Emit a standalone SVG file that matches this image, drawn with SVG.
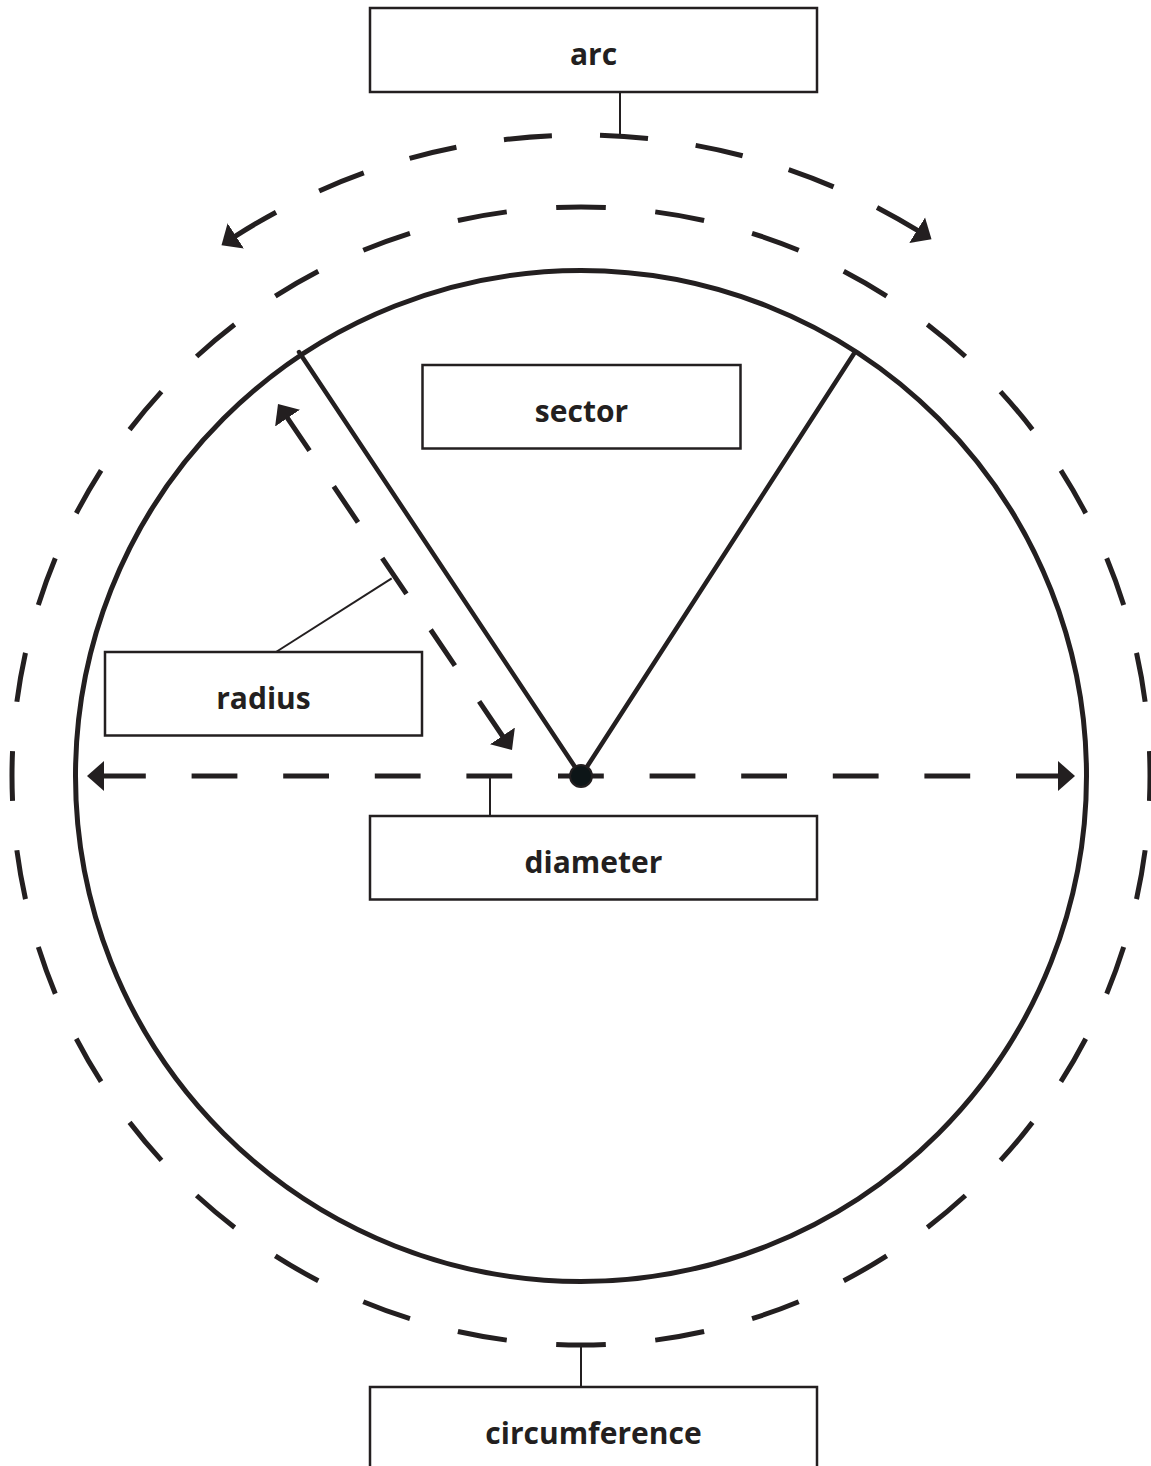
<svg xmlns="http://www.w3.org/2000/svg" width="1151" height="1466" viewBox="0 0 1151 1466">
  <style>
    .box { fill: #ffffff; stroke: #231f20; stroke-width: 2.5; }
    .label { font-family: "Open Sans", "Liberation Sans", sans-serif; font-weight: 700; font-size: 30px; fill: #231f20; text-anchor: middle; }
    .solid { fill: none; stroke: #231f20; stroke-width: 5; }
    .spoke { fill: none; stroke: #231f20; stroke-width: 4.5; stroke-linecap: round; }
    .dash { fill: none; stroke: #231f20; stroke-width: 5; stroke-linecap: butt; }
    .leader { fill: none; stroke: #231f20; stroke-width: 2; }
    .head { fill: #231f20; stroke: none; }
  </style>
  <defs>
    <marker id="arrow" viewBox="0 -16 18 32" refX="4" refY="0" markerWidth="18" markerHeight="32" markerUnits="userSpaceOnUse" orient="auto-start-reverse">
      <path class="head" d="M0,-15 L17,0 L0,15 Z"/>
    </marker>
  </defs>

  <rect width="1151" height="1466" fill="#ffffff"/>

  <g id="figure">
    <circle id="circle" class="solid" cx="581" cy="776" r="505.5"/>
    <circle id="circumference-line" class="dash" cx="581" cy="776" r="569" pathLength="360" stroke-dasharray="5 5" stroke-dashoffset="2.5"/>
    <path id="arc-line" class="dash" d="M232.4,238.1 A641,641 0 0 1 920.5,232.3" stroke-dasharray="48.1 48.1" stroke-dashoffset="93.5" marker-start="url(#arrow)" marker-end="url(#arrow)"/>
    <path id="sector-lines" class="spoke" d="M299,352 L581,776 L855,352"/>
    <path id="radius-line" class="dash" d="M285.3,414.8 L504.7,739.2" stroke-dasharray="43.25 43.25" marker-start="url(#arrow)" marker-end="url(#arrow)"/>
    <path id="diameter-line" class="dash" d="M100,776 L1062,776" stroke-dasharray="45.8 45.8" marker-start="url(#arrow)" marker-end="url(#arrow)"/>
    <circle id="centre" cx="581" cy="776" r="11" fill="#0d1517" stroke="#231f20" stroke-width="2"/>
  </g>

  <g id="connectors">
    <line class="leader" x1="620" y1="92" x2="620" y2="137"/>
    <line class="leader" x1="391.7" y1="578.3" x2="276" y2="652"/>
    <line class="leader" x1="490" y1="776" x2="490" y2="816"/>
    <line class="leader" x1="581" y1="1345" x2="581" y2="1387"/>
  </g>

  <g id="node-arc">
    <rect class="box" x="370" y="8" width="447" height="84"/>
    <text class="label" x="593.5" y="65">arc</text>
  </g>
  <g id="node-sector">
    <rect class="box" x="422.5" y="365" width="318" height="83.5"/>
    <text class="label" x="581.5" y="422">sector</text>
  </g>
  <g id="node-radius">
    <rect class="box" x="105" y="652" width="317" height="83.5"/>
    <text class="label" x="263.5" y="709">radius</text>
  </g>
  <g id="node-diameter">
    <rect class="box" x="370" y="816" width="447" height="83.5"/>
    <text class="label" x="593.5" y="873">diameter</text>
  </g>
  <g id="node-circumference">
    <rect class="box" x="370" y="1387" width="447" height="100"/>
    <text class="label" x="593.5" y="1444">circumference</text>
  </g>
</svg>
